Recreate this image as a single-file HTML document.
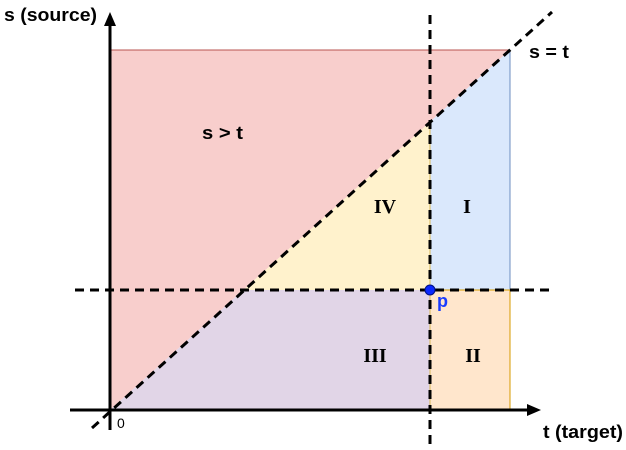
<!DOCTYPE html>
<html><head><style>html,body{margin:0;padding:0;background:#fff}svg{display:block}</style></head><body>
<svg width="626" height="450" viewBox="0 0 626 450" xmlns="http://www.w3.org/2000/svg">
<polygon points="110,50 510,50 110,410" fill="#f8cecc"/>
<line x1="110" y1="50" x2="510" y2="50" stroke="#b85450" stroke-width="1"/>
<polygon points="243.3,290 430,290 430,122" fill="#fff2cc"/>
<polygon points="430,122 510,50 510,290 430,290" fill="#dae8fc"/>
<line x1="510" y1="50" x2="510" y2="290" stroke="#6c8ebf" stroke-width="1"/>
<polygon points="110,410 243.3,290 430,290 430,410" fill="#e1d5e7"/>
<polygon points="430,290 510,290 510,410 430,410" fill="#ffe6cc"/>
<polyline points="430,290 510,290 510,410" fill="none" stroke="#d79b00" stroke-width="1"/>
<line x1="430" y1="122" x2="430" y2="410" stroke="#d6b656" stroke-width="1"/>
<line x1="110" y1="430" x2="110" y2="24" stroke="#000" stroke-width="3"/>
<polygon points="110,12 104,26 116,26" fill="#000"/>
<line x1="70" y1="410" x2="528" y2="410" stroke="#000" stroke-width="3"/>
<polygon points="541,410 527,404 527,416" fill="#000"/>
<g stroke="#000" stroke-width="3" stroke-dasharray="9,6" fill="none">
<line x1="92" y1="428" x2="552" y2="12"/>
<line x1="430" y1="15" x2="430" y2="445"/>
<line x1="75" y1="290" x2="551" y2="290"/>
</g>
<circle cx="430" cy="290" r="5" fill="#0a28ff" stroke="#001080" stroke-width="1"/>
<g font-family="Liberation Sans, sans-serif" font-weight="bold" font-size="18" fill="#000">
<text x="4" y="21" textLength="93" lengthAdjust="spacingAndGlyphs">s (source)</text>
<text x="543" y="438" textLength="80" lengthAdjust="spacingAndGlyphs">t (target)</text>
<text x="529" y="58" textLength="40" lengthAdjust="spacingAndGlyphs">s = t</text>
<text x="202" y="139" textLength="41" lengthAdjust="spacingAndGlyphs">s &gt; t</text>
<text x="437" y="307" fill="#1a3cff">p</text>
</g>
<text x="117" y="428" font-family="Liberation Sans, sans-serif" font-size="14">0</text>
<g font-family="Liberation Serif, serif" font-weight="bold" font-size="20" fill="#000" text-anchor="middle">
<text x="385" y="213">IV</text>
<text x="467" y="213">I</text>
<text x="375" y="362">III</text>
<text x="473" y="362">II</text>
</g>
</svg>
</body></html>
